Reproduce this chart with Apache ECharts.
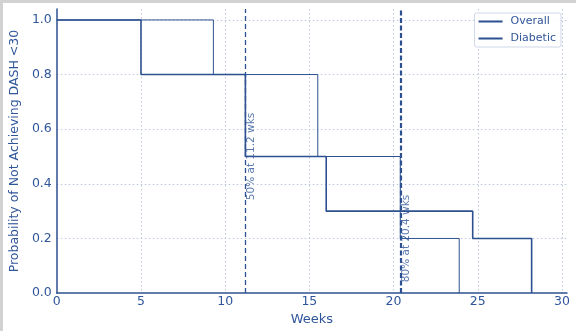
<!DOCTYPE html>
<html><head><meta charset="utf-8">
<script src="https://cdn.jsdelivr.net/npm/echarts@6/dist/echarts.min.js"></script>
<style>html,body{margin:0;padding:0;background:#fff}#c{width:576px;height:331px}</style>
</head><body><div id="c"></div>
<script>
const overallWeeks = [0, 5.0, 11.2, 16.0, 24.7, 28.2];
const overallSurv  = [1.0, 0.8, 0.5, 0.3, 0.2, 0.0];
const diabeticWeeks = [0, 9.3, 15.5, 20.4, 23.9];
const diabeticSurv  = [1.0, 0.8, 0.5, 0.2, 0.0];
const medianWeeks = [11.2, 20.4];
const medianLevels = [0.5, 0.2];
const medianLabels = ['50% at 11.2 wks', '80% at 20.4 wks'];
const xTicks = [0, 5, 10, 15, 20, 25, 30];
const yTicks = [0.0, 0.2, 0.4, 0.6, 0.8, 1.0];

const C = '#2d5190';
const TXT = '#30569a';
const FONT = 'DejaVu Sans';
const zip = (a, b) => a.map((v, i) => [v, b[i]]);

const chart = echarts.init(document.getElementById('c'), null, {renderer: 'canvas'});
chart.setOption({
  animation: false,
  backgroundColor: '#fff',
  textStyle: {fontFamily: FONT},
  graphic: [
    {type: 'rect', shape: {x: 0, y: 0, width: 576, height: 3}, style: {fill: '#d2d2d2'}, silent: true},
    {type: 'rect', shape: {x: 0, y: 0, width: 3, height: 331}, style: {fill: '#d2d2d2'}, silent: true}
  ],
  grid: {left: 55, right: 9, top: 9, bottom: 37},
  legend: {
    orient: 'vertical', right: 15, top: 13,
    data: ['Overall', 'Diabetic'],
    icon: 'rect', itemWidth: 24, itemHeight: 2, itemGap: 6,
    padding: [3, 5, 3, 4],
    borderColor: '#cfd7e7', borderWidth: 1, borderRadius: 2,
    backgroundColor: 'rgba(255,255,255,0.85)',
    textStyle: {fontFamily: FONT, fontSize: 11, color: TXT, padding: [0, 0, 0, 3]}
  },
  xAxis: {
    type: 'value', min: 0, max: 30.3, interval: 5,
    name: 'Weeks', nameLocation: 'middle', nameGap: 17,
    nameTextStyle: {fontFamily: FONT, fontSize: 13, color: TXT},
    axisLine: {show: true, onZero: false, lineStyle: {color: C, width: 1.5}},
    axisTick: {show: false},
    axisLabel: {fontFamily: FONT, fontSize: 12.5, color: TXT, margin: 2, showMaxLabel: false,
      formatter: v => xTicks.includes(v) ? String(v) : ''},
    splitLine: {show: true, showMaxLine: false, showMinLine: false, lineStyle: {color: '#bcc7dd', type: [1.5, 2.5], width: 1}}
  },
  yAxis: {
    type: 'value', min: 0, max: 1.04, interval: 0.2,
    name: 'Probability of Not Achieving DASH <30', nameLocation: 'middle', nameGap: 34,
    nameTextStyle: {fontFamily: FONT, fontSize: 12.5, color: TXT},
    axisLine: {show: true, onZero: false, lineStyle: {color: C, width: 1.5}},
    axisTick: {show: false},
    axisLabel: {fontFamily: FONT, fontSize: 12.5, color: TXT, margin: 5, showMaxLabel: false,
      formatter: v => yTicks.some(t => Math.abs(t - v) < 1e-9) ? v.toFixed(1) : ''},
    splitLine: {show: true, showMaxLine: false, showMinLine: false, lineStyle: {color: '#bcc7dd', type: [1.5, 2.5], width: 1}}
  },
  series: [
    {
      name: 'Overall', type: 'line', step: 'end', symbol: 'none', z: 3,
      data: zip(overallWeeks, overallSurv),
      lineStyle: {color: C, width: 1.6}, itemStyle: {color: C},
      markLine: {
        silent: true, symbol: 'none', label: {show: false},
        data: [
          {xAxis: medianWeeks[0], lineStyle: {color: C, width: 1.3, type: [5, 3]}},
          {xAxis: medianWeeks[1], lineStyle: {color: C, width: 2.2, type: [5, 2.5]}}
        ]
      }
    },
    {
      name: 'Diabetic', type: 'line', step: 'end', symbol: 'none', z: 2,
      data: zip(diabeticWeeks, diabeticSurv),
      lineStyle: {color: C, width: 1.0}, itemStyle: {color: C}
    },
    {
      name: 'medians', type: 'scatter', symbolSize: 0, silent: true, z: 5,
      data: zip(medianWeeks, medianLevels).map((p, i) => ({value: p, label: {formatter: medianLabels[i]}})),
      label: {show: true, position: 'inside', rotate: 90, align: 'center', verticalAlign: 'top',
        offset: [0, 0], distance: 0,
        fontFamily: FONT, fontSize: 10.5, color: TXT}
    }
  ]
});
</script></body></html>
